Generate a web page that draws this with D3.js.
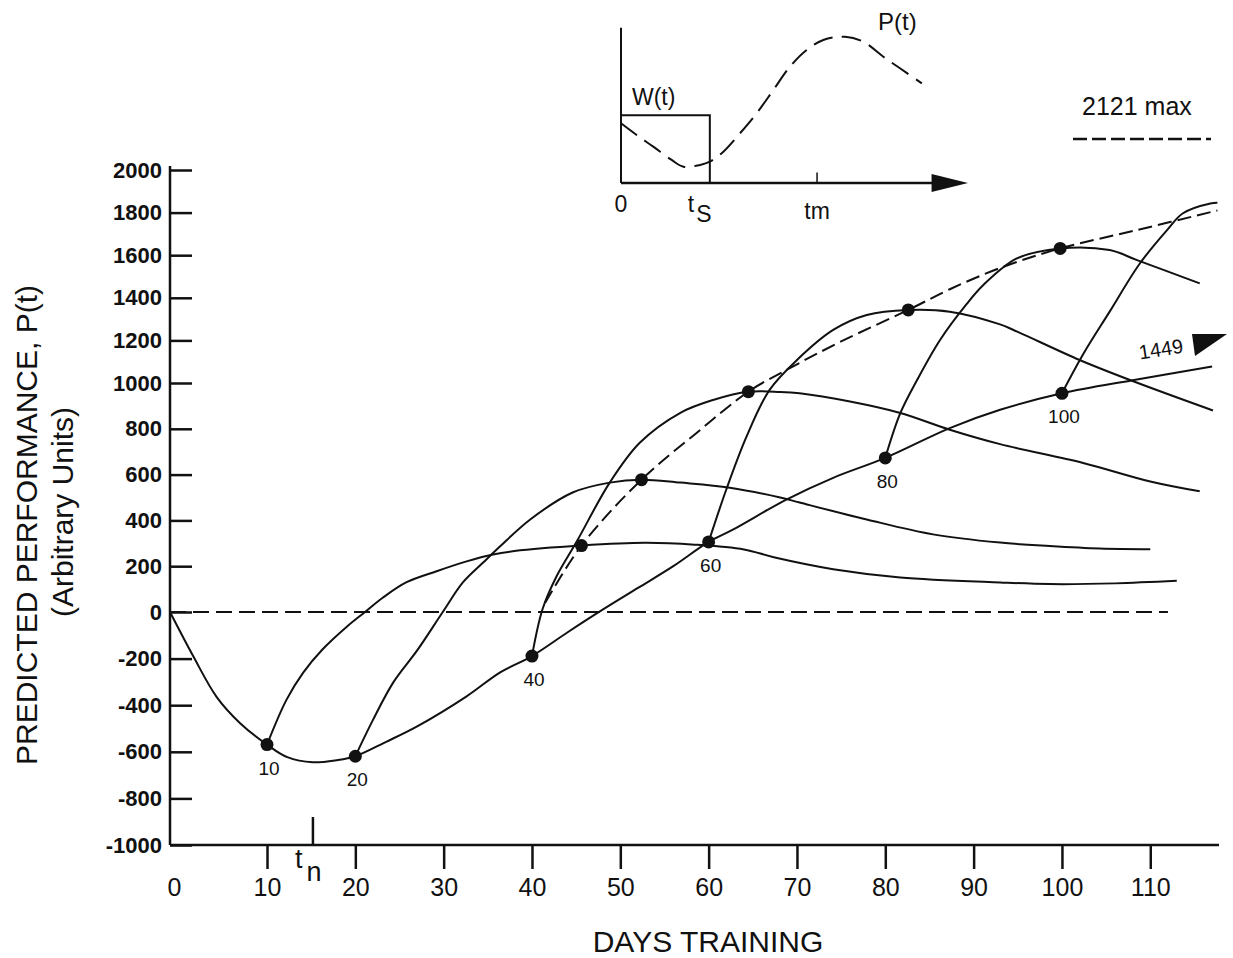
<!DOCTYPE html>
<html>
<head>
<meta charset="utf-8">
<script src="https://cdn.jsdelivr.net/npm/d3@7"></script>
<style>
  body { margin: 0; background: #fff; }
  text { font-family: "Liberation Sans", Arial, Helvetica, sans-serif; fill: #111; }
</style>
</head>
<body>
<svg id="chart" width="1233" height="958"></svg>
<script>
// values: [day, performance]
const xTicks = [0, 10, 20, 30, 40, 50, 60, 70, 80, 90, 100, 110]
const yTicks = [2000, 1800, 1600, 1400, 1200, 1000, 800, 600, 400, 200, 0, -200, -400, -600, -800, -1000]

// continuous training
const mainCurve = [[0,0],[2.4,-190],[4.8,-364],[7.2,-476],[10,-569],[12.3,-623],[15.2,-645],[17.9,-636],[20,-619],
  [23.5,-557],[27,-491],[32.6,-362],[36.4,-259],[40,-189],[44,-88],[48,10],[52,105],[56,200],[60,306],
  [62.8,361],[68.8,491],[74.1,586],[80,673],[87.3,803],[93,883],[100,955],[108,1013],[117,1077]]

// training stopped at day 10, 20, 40, 60, 80, 100
const stop10 = [[10,-569],[12.2,-377],[14.1,-260],[16.3,-160],[19.1,-61],[21.1,0],[23.1,62],[25.8,130],[29.2,178],
  [32.6,221],[35.6,251],[38,266],[45.6,290],[52.8,302],[58.4,294],[64,273],[67.5,238],[74.1,187],[81.7,151],
  [93,129],[98.6,122],[106,125],[113,136]]
const stop20 = [[20,-619],[22,-463],[24.3,-302],[27,-165],[29.9,0],[32.2,130],[34.5,217],[36.4,287],[39.8,404],
  [44.6,522],[48.8,565],[52.4,578],[56.8,565],[62.4,543],[68.1,500],[70.3,478],[77.9,404],[85.4,339],[93,303],
  [98.6,288],[104.3,277],[110,274]]
const stop40 = [[40,-189],[41.2,13],[42.8,157],[45.1,310],[48.8,565],[52.2,739],[56.8,870],[60.5,926],[64.5,962],
  [68.1,961],[70.3,955],[76,919],[81.7,869],[87.3,796],[93,733],[102.4,651],[110,570],[115.6,527]]
const stop60 = [[60,306],[62,535],[64.3,767],[66.9,970],[70,1108],[74.1,1249],[77.9,1319],[82.6,1343],[87.3,1335],
  [93,1275],[95,1240],[102,1108],[107.7,1014],[117.1,880]]
const stop80 = [[80,673],[81.7,868],[83.6,1014],[86.2,1202],[89.2,1370],[91.1,1460],[94.9,1585],[99.8,1632],
  [105.4,1624],[108.5,1577],[115.6,1468]]
const stop100 = [[100,955],[102.4,1135],[105.4,1335],[108.8,1560],[111.9,1718],[113.7,1797],[116.8,1843],[117.6,1846]]

// peak envelope (dashed) and the zero line
const maxEnvelope = [[41.5,40],[45.6,290],[52.4,578],[58.6,781],[64.5,962],[68.8,1061],[75,1195],[82.6,1343],
  [87.3,1440],[93,1540],[99.8,1632],[108.5,1718],[117.6,1810]]
const zeroLine = [[0,0],[112,0]]

const stopDots = [[10,-569],[20,-619],[40,-189],[60,306],[80,673],[100,955]]
const peakDots = [[45.6,290],[52.4,578],[64.5,962],[82.6,1343],[99.8,1632]]
const tn = 15.2

// inset schematic (arbitrary units)
const insetP = [[0,3.73],[0.45,3.0],[0.93,2.27],[1.46,1.44],[1.8,1.02],[2.28,1.13],[2.56,1.33],[2.95,1.96],
  [3.43,3.11],[3.91,4.36],[4.39,5.81],[4.87,7.27],[5.35,8.31],[5.83,8.94],[6.46,9.14],[6.98,8.83],
  [7.56,7.89],[8.04,7.17],[8.67,6.23]]
const insetW = [[0,4.23],[2.56,4.23],[2.56,0]]

const svg = d3.select("#chart")
const ink = "#111"

// scanned figure is slightly uneven, so the scales are piecewise
const x = d3.scaleLinear().domain([0, 10, 120]).range([170, 267, 1238.6])
const y = d3.scaleLinear().domain([-1000, 0, 1000, 2000]).range([845, 612, 383, 170])

const line = d3.line().x(d => x(d[0])).y(d => y(d[1])).curve(d3.curveCatmullRom.alpha(0.5))

// y axis
const gy = svg.append("g").attr("transform", "translate(170,0)")
  .call(d3.axisLeft(y).tickValues(yTicks).tickSize(-22).tickPadding(8).tickFormat(d => String(d)))
gy.select(".domain").remove()
gy.selectAll(".tick line").attr("stroke", ink).attr("stroke-width", 2.5)
gy.selectAll(".tick text").attr("font-size", 22).attr("font-family", "Liberation Sans, Arial, sans-serif")
  .attr("fill", ink).attr("font-weight", "bold")

// x axis
const gx = svg.append("g").attr("transform", "translate(0,845)")
  .call(d3.axisBottom(x).tickValues(xTicks).tickSize(24).tickPadding(9).tickFormat(d => String(d)))
gx.select(".domain").remove()
gx.selectAll(".tick line").attr("stroke", ink).attr("stroke-width", 2.5)
  .filter(d => d === 0).remove()
gx.selectAll(".tick text").attr("font-size", 25)
  .attr("font-family", "Liberation Sans Narrow, DejaVu Sans Condensed, Arial, sans-serif").attr("fill", ink)
gx.selectAll(".tick").filter(d => d === 0).select("text").attr("dx", 4)

svg.append("line").attr("x1", 170).attr("x2", 170).attr("y1", y(2000) - 4).attr("y2", y(-1000))
  .attr("stroke", ink).attr("stroke-width", 2.5)
svg.append("line").attr("x1", 170).attr("x2", 1219).attr("y1", y(-1000)).attr("y2", y(-1000))
  .attr("stroke", ink).attr("stroke-width", 2.5)

// t_n mark
svg.append("line").attr("x1", x(tn)).attr("x2", x(tn)).attr("y1", y(-1000)).attr("y2", y(-1000) - 28)
  .attr("stroke", ink).attr("stroke-width", 2.5)
const tnText = svg.append("text").attr("x", x(tn) - 18).attr("y", 868).attr("font-size", 27)
tnText.append("tspan").text("t")
tnText.append("tspan").attr("dy", 13).attr("dx", 4).text("n")

// titles
svg.append("text").attr("x", 708).attr("y", 952).attr("text-anchor", "middle").attr("font-size", 30)
  .text("DAYS TRAINING")
svg.append("text").attr("transform", "translate(37,525) rotate(-90)").attr("text-anchor", "middle")
  .attr("font-size", 30).text("PREDICTED PERFORMANCE, P(t)")
svg.append("text").attr("transform", "translate(73,512) rotate(-90)").attr("text-anchor", "middle")
  .attr("font-size", 30).text("(Arbitrary Units)")

// curves
svg.append("path").datum(zeroLine).attr("d", line).attr("fill", "none")
  .attr("stroke", ink).attr("stroke-width", 2).attr("stroke-dasharray", "16,7")

const solids = [mainCurve, stop10, stop20, stop40, stop60, stop80, stop100]
svg.append("g").selectAll("path").data(solids).join("path")
  .attr("d", line).attr("fill", "none").attr("stroke", ink).attr("stroke-width", 2)

svg.append("path").datum(maxEnvelope).attr("d", line).attr("fill", "none")
  .attr("stroke", ink).attr("stroke-width", 2).attr("stroke-dasharray", "14,6")

svg.append("g").selectAll("circle").data(stopDots.concat(peakDots)).join("circle")
  .attr("cx", d => x(d[0])).attr("cy", d => y(d[1])).attr("r", 6.5).attr("fill", ink)

svg.append("g").selectAll("text").data(stopDots).join("text")
  .attr("x", d => x(d[0]) + 2).attr("y", d => y(d[1]) + 30)
  .attr("text-anchor", "middle").attr("font-size", 19).text(d => d[0])

// asymptote notes
svg.append("text").attr("transform", "translate(1162,356) rotate(-9)").attr("text-anchor", "middle")
  .attr("font-size", 20).text("1449")
svg.append("path").attr("d", "M1192,334 L1227,334 L1195,356 Z").attr("fill", ink)

svg.append("text").attr("x", 1082).attr("y", 115).attr("font-size", 25).text("2121 max")
svg.append("line").attr("x1", 1073).attr("x2", 1211).attr("y1", 139).attr("y2", 139)
  .attr("stroke", ink).attr("stroke-width", 2.5).attr("stroke-dasharray", "14,5")

// inset
const ix = d3.scaleLinear().domain([0, 10]).range([621, 968])
const iy = d3.scaleLinear().domain([0, 10]).range([183, 23])
const inset = svg.append("g")
inset.append("line").attr("x1", ix(0)).attr("x2", ix(0)).attr("y1", iy(9.7)).attr("y2", iy(0))
  .attr("stroke", ink).attr("stroke-width", 2)
inset.append("line").attr("x1", ix(0)).attr("x2", ix(9)).attr("y1", iy(0)).attr("y2", iy(0))
  .attr("stroke", ink).attr("stroke-width", 2.5)
inset.append("path").attr("d", `M${ix(8.95)},${iy(0.56)} L${ix(10)},${iy(0)} L${ix(8.95)},${iy(-0.56)} Z`)
  .attr("fill", ink)
inset.append("path").datum(insetW)
  .attr("d", d3.line().x(d => ix(d[0])).y(d => iy(d[1])))
  .attr("fill", "none").attr("stroke", ink).attr("stroke-width", 2)
inset.append("path").datum(insetP)
  .attr("d", d3.line().x(d => ix(d[0])).y(d => iy(d[1])).curve(d3.curveCatmullRom))
  .attr("fill", "none").attr("stroke", ink).attr("stroke-width", 2).attr("stroke-dasharray", "20,9")
inset.append("line").attr("x1", ix(5.65)).attr("x2", ix(5.65)).attr("y1", iy(0)).attr("y2", iy(0.65))
  .attr("stroke", ink).attr("stroke-width", 1.5)

inset.append("text").attr("x", ix(0)).attr("y", 212).attr("text-anchor", "middle").attr("font-size", 23).text("0")
const tsText = inset.append("text").attr("x", ix(2.56) - 22).attr("y", 212).attr("font-size", 23)
tsText.append("tspan").text("t")
tsText.append("tspan").attr("dy", 10).attr("dx", 2).text("S")
inset.append("text").attr("x", ix(5.65)).attr("y", 219).attr("text-anchor", "middle").attr("font-size", 23).text("tm")
inset.append("text").attr("x", 632).attr("y", 105).attr("font-size", 23).text("W(t)")
inset.append("text").attr("x", 878).attr("y", 30).attr("font-size", 24).text("P(t)")
</script>
</body>
</html>
